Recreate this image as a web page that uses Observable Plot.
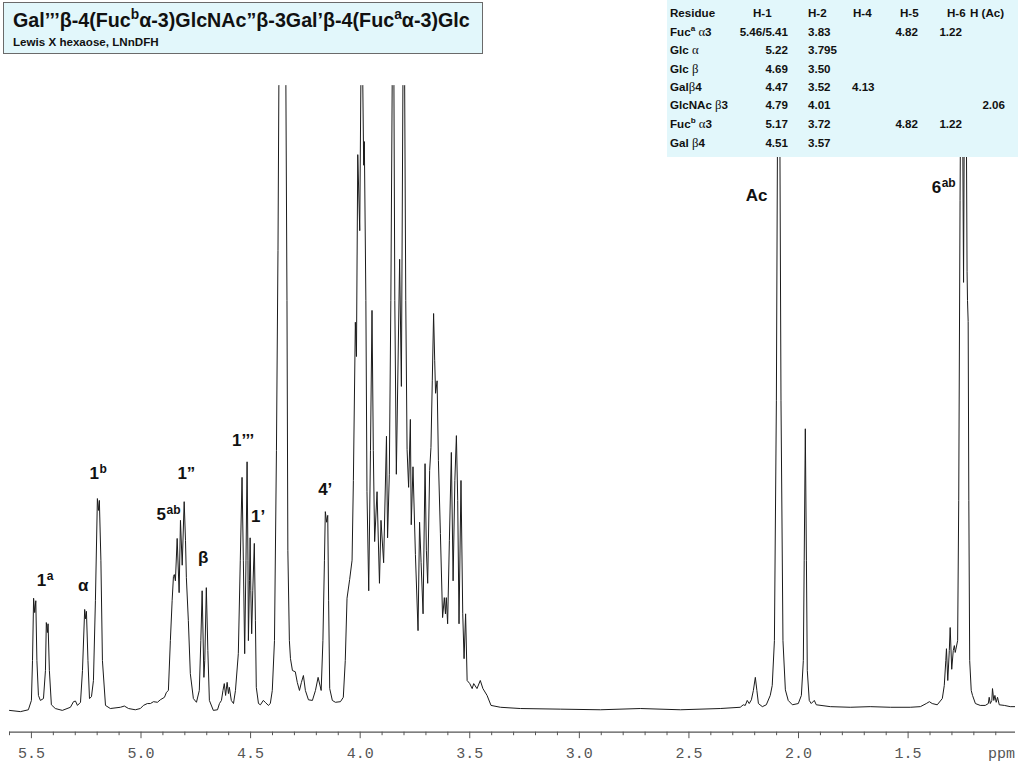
<!DOCTYPE html>
<html>
<head>
<meta charset="utf-8">
<script src="https://cdn.jsdelivr.net/npm/d3@7"></script>
<script src="https://cdn.jsdelivr.net/npm/@observablehq/plot@0.6"></script>
<style>
  body { margin: 0; background: #fff; }
  #wrap { position: relative; width: 1024px; height: 768px; overflow: hidden;
          font-family: "Liberation Sans", Arial, sans-serif; }
  #chart svg { display: block; }
  .ov { position: absolute; white-space: nowrap; line-height: 1; color: #111; }
  .ov sup { font-size: 0.7em; line-height: 0; vertical-align: super; }
  .gr { font-family: "Liberation Serif", "Times New Roman", serif; font-weight: normal; font-size: 1.1em; }
  #titlebox { position: absolute; left: 3px; top: 2px; width: 478px; height: 50px;
              background: #e2f7fb; border: 1.5px solid #6a6a6a; }
  #tablebg { position: absolute; left: 667px; top: 0px; width: 351px; height: 157px;
             background: #e2f7fb; }
</style>
</head>
<body>
<div id="wrap">
  <div id="chart"></div>
  <div id="titlebox"></div>
  <div id="tablebg"></div>
</div>
<script>
// ---------------- DATA ----------------
// chemical shift (ppm) of traced spectrum points
const shift = [5.600,5.550,5.514,5.500,5.495,5.490,5.485,5.480,5.475,5.468,5.459,5.445,5.436,5.432,5.427,5.424,5.418,5.409,5.391,5.359,5.322,5.308,5.299,5.290,5.276,5.267,5.257,5.253,5.249,5.242,5.235,5.226,5.217,5.208,5.199,5.194,5.190,5.183,5.176,5.162,5.140,5.094,5.076,5.057,5.026,5.003,4.989,4.971,4.957,4.943,4.925,4.912,4.893,4.884,4.875,4.866,4.858,4.852,4.848,4.843,4.835,4.826,4.820,4.812,4.803,4.797,4.793,4.784,4.775,4.761,4.747,4.734,4.727,4.721,4.713,4.709,4.702,4.695,4.688,4.670,4.651,4.642,4.633,4.626,4.620,4.614,4.607,4.601,4.597,4.588,4.578,4.569,4.556,4.547,4.539,4.533,4.527,4.521,4.516,4.512,4.510,4.505,4.502,4.499,4.495,4.490,4.483,4.478,4.474,4.464,4.455,4.442,4.433,4.419,4.410,4.401,4.391,4.382,4.375,4.371,4.355,4.339,4.334,4.330,4.323,4.318,4.309,4.296,4.287,4.277,4.268,4.259,4.250,4.236,4.218,4.204,4.192,4.178,4.170,4.163,4.159,4.153,4.148,4.144,4.139,4.127,4.113,4.090,4.077,4.068,4.060,4.048,4.037,4.031,4.022,4.017,4.011,4.002,3.997,3.992,3.988,3.984,3.981,3.974,3.969,3.961,3.953,3.946,3.940,3.934,3.923,3.912,3.905,3.893,3.880,3.875,3.867,3.860,3.854,3.851,3.846,3.842,3.835,3.820,3.812,3.805,3.802,3.797,3.792,3.786,3.779,3.771,3.767,3.759,3.748,3.736,3.729,3.722,3.713,3.704,3.698,3.692,3.683,3.677,3.671,3.665,3.660,3.656,3.649,3.643,3.634,3.624,3.616,3.611,3.607,3.601,3.593,3.584,3.576,3.568,3.561,3.555,3.549,3.540,3.532,3.526,3.519,3.512,3.500,3.489,3.482,3.467,3.452,3.440,3.421,3.403,3.360,3.269,3.087,2.904,2.722,2.539,2.357,2.266,2.252,2.243,2.234,2.225,2.215,2.206,2.197,2.190,2.183,2.165,2.147,2.129,2.120,2.110,2.101,2.095,2.091,2.086,2.080,2.071,2.060,2.047,2.028,2.001,1.987,1.978,1.974,1.969,1.964,1.960,1.951,1.942,1.928,1.919,1.855,1.764,1.673,1.581,1.490,1.444,1.417,1.403,1.390,1.367,1.344,1.335,1.328,1.325,1.319,1.312,1.308,1.301,1.294,1.289,1.285,1.282,1.274,1.269,1.263,1.260,1.255,1.252,1.247,1.243,1.238,1.235,1.231,1.229,1.226,1.223,1.219,1.212,1.206,1.193,1.171,1.148,1.134,1.130,1.125,1.118,1.115,1.109,1.104,1.098,1.092,1.084,1.061,1.034,1.011];
// relative intensity (100 = top of the plotted window; off-scale peaks exceed it)
const intensity = [-0.3,-0.5,-0.2,1.3,7.7,17.7,15.4,17.3,7.7,2.1,1.3,1.6,6.1,13.8,12.2,13.6,6.1,0.6,0,-0.3,0.2,1.1,1.2,0.5,1.0,6.1,15.9,14.4,15.6,7.7,1.6,1.9,4.5,17.3,33.7,31.8,33.4,23.8,7.7,0.5,0,0.2,0.4,0,-0.2,0,0.5,0.8,0.8,1.1,1.0,1.4,1.8,2.6,2.9,10.9,17.3,21.2,21.5,20.5,27.3,18.6,30.2,23.0,33.2,27.0,21.0,14.1,5.6,1.6,1.0,2.9,10.9,18.9,5.0,7.7,19.4,9.3,1.3,-0.3,-0.2,0.8,1.3,2.9,4.0,2.1,4.2,2.4,3.4,1.3,0.8,2.9,8.8,23.8,37.1,23.8,8.8,23.8,39.6,23.8,10.9,20.5,27.4,18.9,12.0,18.9,26.5,14.1,3.4,0.8,0.6,1.3,1.0,0.5,0.8,2.9,10.9,41.4,73.5,100,160,100,65.5,25.4,10.9,8.0,6.1,5.9,4.2,2.9,4.2,5.3,2.9,1.4,1.3,2.9,5.0,2.9,10.9,23.8,31.6,29.9,31.0,17.3,3.2,1.3,1.0,1.1,1.8,7.7,17.7,20.7,23.8,36.6,62.0,56.5,88.9,76.7,100,160,100,87.2,91.0,65.5,34.8,18.9,41.4,63.9,41.4,26.8,34.8,20.1,30.2,23.4,43.7,27.4,37.6,65.5,100,160,100,65.5,37.6,72.1,51.7,100,160,100,65.5,41.6,35.5,46.4,29.5,38.8,24.7,12.5,29.9,23.4,15.2,39.3,25.4,20.1,38.2,41.9,52.6,63.4,55.9,50.6,52.6,39.8,28.1,14.6,17.8,15.2,17.8,13.6,27.0,41.1,20.5,36.6,43.8,33.4,13.6,36.6,15.2,8.0,15.2,4.5,4.0,3.2,4.0,3.2,4.5,3.2,2.1,0.5,0.2,0,-0.1,-0.2,0,-0.2,0,0.2,0.6,0.5,1.3,0.8,1.4,2.9,5.0,2.9,0.8,0.3,0.6,2.1,3.7,10.9,49.4,100,160,100,49.4,10.9,3.0,1.3,0.6,0.8,2.1,7.7,23.8,44.9,23.8,6.1,1.3,0.8,1.3,0.6,0.3,0.2,0.3,0.2,0.2,0.3,0.8,1.1,0.8,0.6,1.6,3.7,7.7,9.6,4.5,9.3,13.0,6.3,9.3,10.1,9.0,9.5,10.9,33.4,81.5,100,160,100,68.4,100,160,100,70.1,65.5,62.1,33.4,7.7,2.9,2.1,0.8,0.5,0.5,0.8,1.8,0.8,1.3,3.2,1.3,2.1,1.0,1.8,0.6,0.5,0.3,0.3];

// x-axis ticks
const majorTicks = [5.5, 5.0, 4.5, 4.0, 3.5, 3.0, 2.5, 2.0, 1.5];
const minorTicks = [5.6,5.4,5.3,5.2,5.1,4.9,4.8,4.7,4.6,4.4,4.3,4.2,4.1,3.9,3.8,3.7,3.6,3.4,3.3,3.2,3.1,2.9,2.8,2.7,2.6,2.4,2.3,2.2,2.1,1.9,1.8,1.7,1.6,1.4,1.3,1.2,1.1];
const axisUnit = "ppm";

// peak annotations (label anchored at its right/junction point, at baseline)
const annoMain  = ["1",   "α",   "1",   "5",   "1”",  "β",   "1’’’", "1’",  "4’",  "Ac",  "6"];
const annoSup   = ["a",   "",    "b",   "ab",  "",    "",    "",     "",    "",    "",    "ab"];
const annoShift = [5.432, 5.240, 5.192, 4.886, 4.752, 4.693, 4.483,  4.433, 4.127, 2.142, 1.349];
const annoInt   = [19.7,  18.9,  36.8,  30.3,  36.9,  23.3,  42.1,   29.9,  34.2,  81.5,  82.7];

// titles
const titleText = "Gal’’’β-4(Fuc^bα-3)GlcNAc”β-3Gal’β-4(Fuc^aα-3)Glc";
const subtitleText = "Lewis X hexaose, LNnDFH";

// assignment table
const tableHeader = ["Residue", "H-1", "H-2", "H-4", "H-5", "H-6", "H (Ac)"];
const residues = ["Fuc^a α3", "Glc α", "Glc β", "Galβ4", "GlcNAc β3", "Fuc^b α3", "Gal β4"];
const h1  = ["5.46/5.41", "5.22", "4.69", "4.47", "4.79", "5.17", "4.51"];
const h2  = ["3.83", "3.795", "3.50", "3.52", "4.01", "3.72", "3.57"];
const h4  = ["", "", "", "4.13", "", "", ""];
const h5  = ["4.82", "", "", "", "", "4.82", ""];
const h6  = ["1.22", "", "", "", "", "1.22", ""];
const hAc = ["", "", "", "", "2.06", "", ""];

// ---------------- CHART ----------------
const n = Math.min(shift.length, intensity.length);
const idx = d3.range(n);
const aIdx = d3.range(annoMain.length);
const supIdx = aIdx.filter(i => annoSup[i] !== "");
const yMin = -3.8;

const chart = Plot.plot({
  width: 1024,
  height: 768,
  marginTop: 85,
  marginBottom: 36.3,
  marginLeft: 9,
  marginRight: 9,
  x: {domain: [5.6, 1.01]},
  y: {domain: [yMin, 100], axis: null},
  style: {background: "transparent", overflow: "visible"},
  marks: [
    Plot.ruleY([yMin], {stroke: "#555", strokeWidth: 1.2}),
    Plot.axisX(minorTicks, {anchor: "bottom", tickSize: 3.5, tickFormat: () => "", stroke: "#555", label: null}),
    Plot.axisX(majorTicks, {anchor: "bottom", tickSize: 6.5, tickPadding: 9,
      tickFormat: d => d.toFixed(1), fontSize: 15, fontFamily: "Liberation Mono, monospace",
      stroke: "#555", fill: "#555", label: null}),
    Plot.text([axisUnit], {x: 1.135, y: yMin, text: d => d, textAnchor: "start", lineAnchor: "top",
      dy: 15.5, fontSize: 15, fontFamily: "Liberation Mono, monospace", fill: "#555"}),
    Plot.line(idx, {x: i => shift[i], y: i => intensity[i], stroke: "#1b1b1b", strokeWidth: 1, clip: true}),
    Plot.text(aIdx, {x: i => annoShift[i], y: i => annoInt[i], text: i => annoMain[i],
      textAnchor: "end", lineAnchor: "top", dy: -0.71 * 17, fontSize: 17, fontWeight: "bold",
      fontFamily: "Liberation Sans, Arial, sans-serif", fill: "#111"}),
    Plot.text(supIdx, {x: i => annoShift[i], y: i => annoInt[i], text: i => annoSup[i],
      textAnchor: "start", lineAnchor: "top", dx: 0.5, dy: -6 - 0.71 * 12, fontSize: 12, fontWeight: "bold",
      fontFamily: "Liberation Sans, Arial, sans-serif", fill: "#111"})
  ]
});
document.getElementById("chart").appendChild(chart);

// ---------------- OVERLAY TEXT ----------------
const wrap = document.getElementById("wrap");
function markup(s, greekSerif) {
  let h = s.replace(/\^(\w)/g, "<sup>$1</sup>");
  if (greekSerif) h = h.replace(/([αβ])/g, '<span class="gr">$1</span>');
  return h;
}
function place(html, x, baseline, fs, anchor, weight) {
  const d = document.createElement("div");
  d.className = "ov";
  d.innerHTML = html;
  d.style.fontSize = fs + "px";
  d.style.fontWeight = weight || "bold";
  d.style.left = x + "px";
  d.style.top = (baseline - 0.8465 * fs) + "px";
  if (anchor === "end") d.style.transform = "translateX(-100%)";
  wrap.appendChild(d);
}
place(markup(titleText, false), 13, 28, 19.7, "start");
place(subtitleText, 13, 46, 11.6, "start");

const rowBase = [17, 36, 54, 73, 91, 109, 128, 147];
const headX = [670, 753, 808, 853, 900, 947, 970];
tableHeader.forEach((t, j) => place(t, headX[j], rowBase[0], 11.6, "start"));
const cols = [
  {vals: h1,  x: 788,  anchor: "end"},
  {vals: h2,  x: 808,  anchor: "start"},
  {vals: h4,  x: 852,  anchor: "start"},
  {vals: h5,  x: 918,  anchor: "end"},
  {vals: h6,  x: 962,  anchor: "end"},
  {vals: hAc, x: 1005, anchor: "end"}
];
residues.forEach((r, i) => {
  place(markup(r, true), 670, rowBase[i + 1], 11.6, "start");
  cols.forEach(c => { if (c.vals[i]) place(c.vals[i], c.x, rowBase[i + 1], 11.6, c.anchor); });
});
</script>
</body>
</html>
